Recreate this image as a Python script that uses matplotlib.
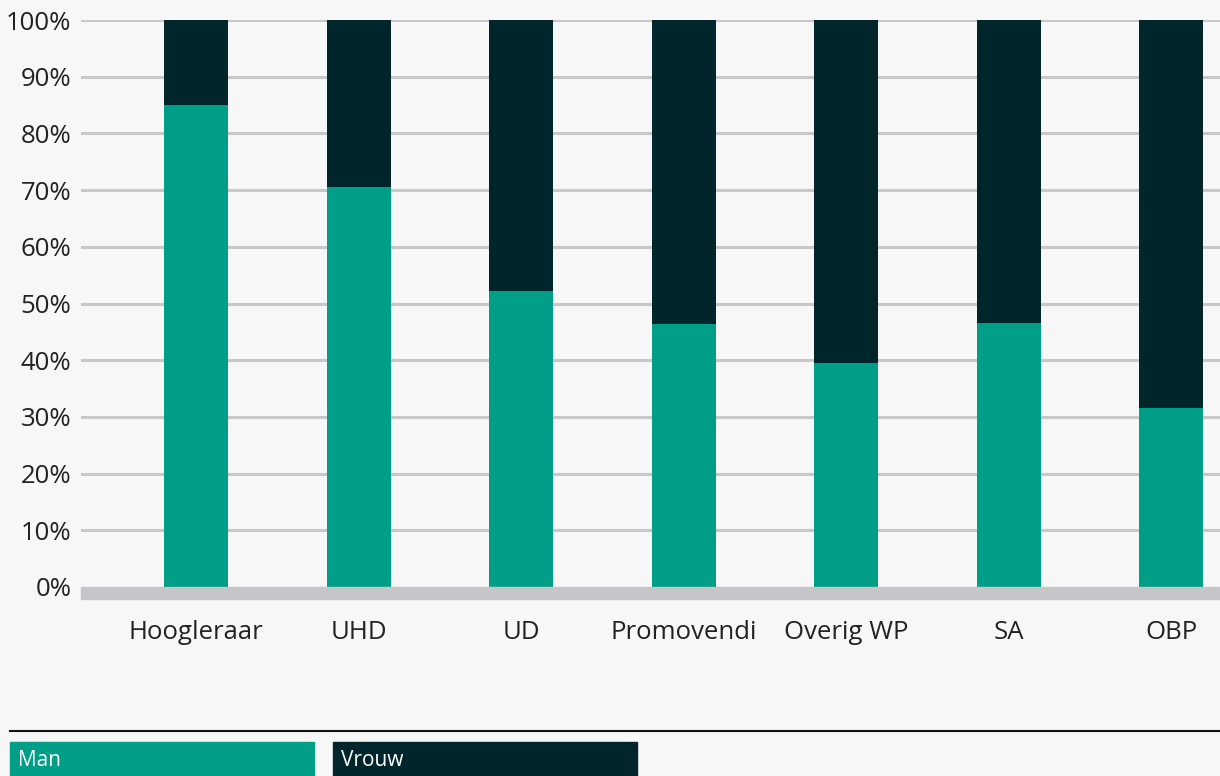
import matplotlib
matplotlib.use("Agg")
import matplotlib.pyplot as plt
from matplotlib.patches import Rectangle
from matplotlib.lines import Line2D

categories = ["Hoogleraar", "UHD", "UD", "Promovendi", "Overig WP", "SA", "OBP"]
man = [85.0, 70.5, 52.2, 46.4, 39.5, 46.6, 31.6]
vrouw = [100 - m for m in man]
series_labels = ["Man", "Vrouw"]
yticks = list(range(0, 101, 10))
ytick_labels = [f"{t}%" for t in yticks]

TEAL = "#009e87"
DARK = "#00262b"
BG = "#f7f7f7"
GRID = "#c8c8c8"
TXT = "#222222"

plt.rcParams['font.family'] = ['Open Sans', 'DejaVu Sans']

W, H = 1220, 776
fig = plt.figure(figsize=(W / 100, H / 100), dpi=100, facecolor=BG)
ax = fig.add_axes([81 / W, (H - 587) / H, 1 - 81 / W, 567 / H])
ax.set_facecolor(BG)

x = list(range(len(categories)))
ax.bar(x, man, width=0.395, color=TEAL, zorder=3)
ax.bar(x, vrouw, bottom=man, width=0.395, color=DARK, zorder=3)

ax.set_xlim(-0.71, 6.30)
ax.set_ylim(0, 100)
ax.set_yticks(yticks)
ax.set_yticklabels(ytick_labels)
for t in yticks[1:]:
    ax.axhline(t, color=GRID, lw=2.2, zorder=1)
ax.set_xticks(x)
ax.set_xticklabels(categories)
ax.tick_params(axis='x', length=0, pad=23.5, labelsize=18.5, labelcolor=TXT)
ax.tick_params(axis='y', length=0, pad=7, labelsize=18.5, labelcolor=TXT)
for s in ax.spines.values():
    s.set_visible(False)

# bottom band
fig.patches.append(Rectangle((81 / W, (H - 599) / H), 1 - 81 / W, 12 / H,
                             transform=fig.transFigure, color="#c6c6c8", zorder=2))

# legend separator line
fig.lines.append(Line2D([10 / W, 1], [(H - 731) / H] * 2, transform=fig.transFigure,
                        color="#111111", lw=1.5))

# legend boxes
boxes = [(10, 314, TEAL), (333, 637, DARK)]
for (x0, x1, c), lab in zip(boxes, series_labels):
    fig.patches.append(Rectangle((x0 / W, 0), (x1 - x0) / W, (H - 742) / H,
                                 transform=fig.transFigure, color=c))
    fig.text((x0 + 8) / W, (H - 760) / H, lab, color="white", fontsize=15,
             va="center", ha="left")

fig.savefig("out.png", dpi=100, facecolor=BG)
